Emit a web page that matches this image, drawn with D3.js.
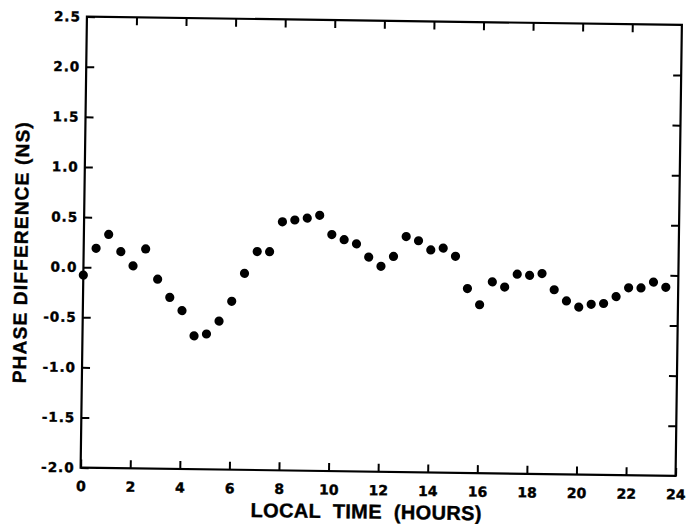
<!DOCTYPE html>
<html>
<head>
<meta charset="utf-8">
<script src="https://cdn.jsdelivr.net/npm/d3@7"></script>
<style>
  body { margin: 0; background: #fff; }
  svg { display: block; }
  .tick text { font-family: "DejaVu Sans", sans-serif; font-weight: bold; }
</style>
</head>
<body>
<div id="graphic"></div>
<script>
// half-hourly samples
const hours = [0, 0.5, 1, 1.5, 2, 2.5, 3, 3.5, 4, 4.5, 5, 5.5, 6, 6.5, 7, 7.5, 8, 8.5,
    9, 9.5, 10, 10.5, 11, 11.5, 12, 12.5, 13, 13.5, 14, 14.5, 15, 15.5, 16,
    16.5, 17, 17.5, 18, 18.5, 19, 19.5, 20, 20.5, 21, 21.5, 22, 22.5, 23, 23.5]
const phase = [-0.08, 0.19, 0.33, 0.16, 0.02, 0.19, -0.11, -0.29, -0.42, -0.67, -0.65, -0.52,
    -0.32, -0.04, 0.18, 0.18, 0.48, 0.50, 0.52, 0.55, 0.36, 0.31, 0.27, 0.14, 0.05, 0.15,
    0.35, 0.31, 0.22, 0.24, 0.16, -0.16, -0.32, -0.09, -0.14, -0.01, -0.02, 0.00, -0.16,
    -0.27, -0.33, -0.30, -0.29, -0.22, -0.13, -0.13, -0.07, -0.12]

const xTicks = [0, 2, 4, 6, 8, 10, 12, 14, 16, 18, 20, 22, 24]
const yTicks = [-2.0, -1.5, -1.0, -0.5, 0.0, 0.5, 1.0, 1.5, 2.0, 2.5]
const yTickLabels = ["-2.0", "-1.5", "-1.0", "-0.5", "0.0", "0.5", "1.0", "1.5", "2.0", "2.5"]

const width = 595
const height = 451
const tickLen = 8

// the scanned figure sits slightly tilted
let svg = d3.select("#graphic").append("svg")
    .attr("width", 690)
    .attr("height", 524)

let g = svg.append("g")
    .attr("transform", "translate(381.25,246.25) rotate(0.8) translate(" + (-width / 2) + "," + (-height / 2) + ")")

let x = d3.scaleLinear()
    .domain([0, 24])
    .range([0, width])

let y = d3.scaleLinear()
    .domain([-2.0, 2.5])
    .range([height, 0])

// bottom axis with labels, ticks pointing in
g.append("g")
    .attr("transform", "translate(0," + height + ")")
    .call(d3.axisBottom(x).tickValues(xTicks).tickSize(-tickLen).tickSizeOuter(0).tickPadding(11))
    .call(ax => ax.select(".domain").remove())
    .call(ax => ax.selectAll(".tick text").attr("font-size", 14).attr("dy", "0.9em")
        .attr("stroke", "#000").attr("stroke-width", 0.4))

// left axis with labels
g.append("g")
    .call(d3.axisLeft(y).tickValues(yTicks).tickSize(-tickLen).tickSizeOuter(0).tickPadding(6)
        .tickFormat((d, i) => yTickLabels[i]))
    .call(ax => ax.select(".domain").remove())
    .call(ax => ax.selectAll(".tick text").attr("font-size", 13.5).attr("letter-spacing", 1)
        .attr("stroke", "#000").attr("stroke-width", 0.4))

// top and right, ticks only
g.append("g")
    .call(d3.axisTop(x).tickValues(xTicks.slice(1, -1)).tickSize(-tickLen).tickSizeOuter(0).tickFormat(""))
    .call(ax => ax.select(".domain").remove())

g.append("g")
    .attr("transform", "translate(" + width + ",0)")
    .call(d3.axisRight(y).tickValues(yTicks.slice(1, -1)).tickSize(-tickLen).tickSizeOuter(0).tickFormat(""))
    .call(ax => ax.select(".domain").remove())

g.selectAll(".tick line")
    .attr("stroke", "#000")
    .attr("stroke-width", 2)

// frame
g.append("rect")
    .attr("x", 0)
    .attr("y", 0)
    .attr("width", width)
    .attr("height", height)
    .attr("fill", "none")
    .attr("stroke", "#000")
    .attr("stroke-width", 2.2)

// points
g.selectAll(null)
    .data(hours)
    .enter().append("circle")
    .attr("cx", d => x(d))
    .attr("cy", (d, i) => y(phase[i]))
    .attr("r", 4.6)
    .attr("fill", "#000")

// axis titles
g.append("text")
    .attr("x", 286)
    .attr("y", height + 47)
    .attr("text-anchor", "middle")
    .attr("font-family", "Liberation Sans, Arial, sans-serif")
    .attr("font-weight", "bold")
    .attr("font-size", 20)
    .attr("textLength", 231)
    .attr("lengthAdjust", "spacing")
    .attr("stroke", "#000")
    .attr("stroke-width", 0.4)
    .style("word-spacing", "6px")
    .text("LOCAL TIME (HOURS)")

g.append("text")
    .attr("transform", "translate(-56," + 237 + ") rotate(-90)")
    .attr("text-anchor", "middle")
    .attr("font-family", "Liberation Sans, Arial, sans-serif")
    .attr("font-weight", "bold")
    .attr("font-size", 19)
    .attr("textLength", 261)
    .attr("lengthAdjust", "spacing")
    .attr("stroke", "#000")
    .attr("stroke-width", 0.4)
    .text("PHASE DIFFERENCE (NS)")
</script>
</body>
</html>
